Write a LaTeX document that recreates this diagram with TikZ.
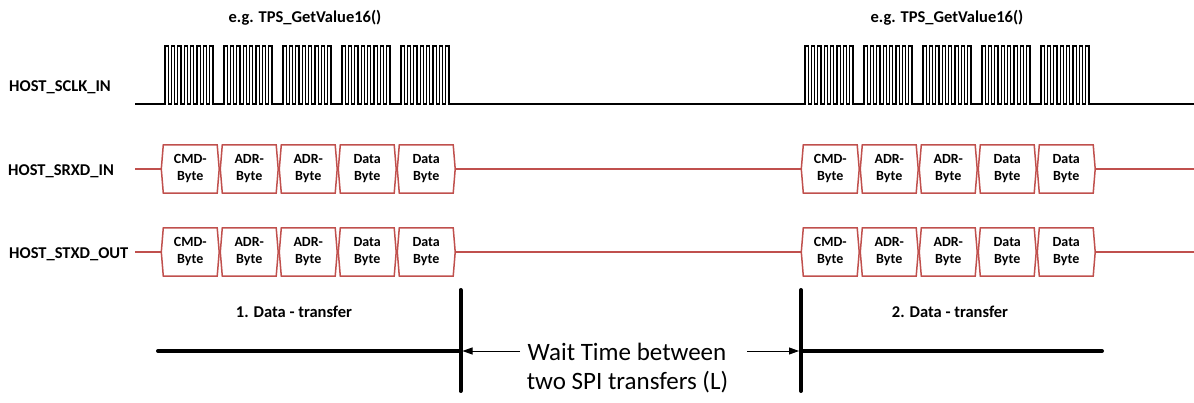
\documentclass[tikz,border=0pt]{standalone}
\usepackage{fontspec}
\setmainfont{Carlito}
\usetikzlibrary{arrows.meta}
\definecolor{busred}{RGB}{192,80,77}
\begin{document}
\begin{tikzpicture}[x=1pt,y=-1pt,
  lbl/.style={font=\fontsize{16.5}{20}\selectfont\bfseries, anchor=base west, inner sep=0pt},
  ttl/.style={font=\fontsize{16.5}{20}\selectfont\bfseries, anchor=base, inner sep=0pt},
  waittxt/.style={font=\fontsize{25}{29}\selectfont, anchor=base, inner sep=0pt},
  bytebox/.style={minimum width=57.5pt, minimum height=48pt, inner sep=0pt, align=center,
                  font=\fontsize{14}{17}\selectfont\bfseries},
  busline/.style={draw=busred, line width=1.5pt},
  clk/.style={line width=1.1pt, line join=miter},
  thickbar/.style={line width=4pt, line cap=round},
  arr/.style={line width=0.9pt, -{Triangle[length=10pt,width=7pt]}, shorten >=2pt}]
\useasboundingbox (0,0) rectangle (1194,403);

% signal labels
\node[lbl] (lsclk) at (9,91.5) {HOST\_SCLK\_IN};
\node[lbl] (lsrxd) at (8,175.5) {HOST\_SRXD\_IN};
\node[lbl] (lstxd) at (9,258.5) {HOST\_STXD\_OUT};

% titles
\node[ttl] (t1) at (305,22.5) {e.g. TPS\_GetValue16()};
\node[ttl] (t2) at (947,22.5) {e.g. TPS\_GetValue16()};

% clock
\draw[clk] (135,104)
  \foreach \g in {165,224,283,342,401,805,864,923,982,1041} {
    -- (\g,104)
    \foreach \k in {1,...,8} { -- ++(0,-58) -- ++(3.2,0) -- ++(0,58) -- ++(3.2,0) }
  } -- (1194,104);

% bus rows
\foreach \r/\y in {a/169,b/252} {
  \foreach \t/\xo in {1/190.25,2/830.25} {
    \foreach \k/\txt in {1/CMD-,2/ADR-,3/ADR-,4/Data,5/Data} {
      \pgfmathsetmacro\xx{\xo+59*(\k-1)}
      \node[bytebox] (\r\t\k) at (\xx,\y) {\txt\\Byte};
      \draw[busline] ([xshift=2pt]\r\t\k.north west) -- (\r\t\k.west)
        -- ([xshift=2pt]\r\t\k.south west) -- ([xshift=-2pt]\r\t\k.south east)
        -- (\r\t\k.east) -- ([xshift=-2pt]\r\t\k.north east) -- cycle;
    }
  }
  \coordinate (\r s) at (135,\y);
  \coordinate (\r e) at (1194,\y);
  \draw[busline] (\r s) -- (\r11.west);
  \draw[busline] (\r15.east) -- (\r21.west);
  \draw[busline] (\r25.east) -- (\r e);
}

% transfer labels
\node[ttl] (d1) at (294,317.5) {1. Data - transfer};
\node[ttl] (d2) at (950,317.5) {2. Data - transfer};

% bottom bars
\coordinate (v1t) at (460.5,290);
\coordinate (v1b) at (460.5,391);
\coordinate (v2t) at (801,290);
\coordinate (v2b) at (801,391);
\coordinate (v1) at (460.5,351);
\coordinate (v2) at (801,351);
\coordinate (h1) at (158,351);
\coordinate (h2) at (1102,351);
\draw[thickbar] (v1t) -- (v1b);
\draw[thickbar] (v2t) -- (v2b);
\draw[thickbar] (h1) -- (v1);
\draw[thickbar] (v2) -- (h2);

% wait time
\node[waittxt] (w1) at (627,360) {Wait Time between};
\node[waittxt] (w2) at (627.5,389) {two SPI transfers (L)};
\coordinate (a1) at (520,351);
\coordinate (a2) at (747,351);
\draw[arr] (a1) -- (v1);
\draw[arr] (a2) -- (v2);
\end{tikzpicture}
\end{document}
